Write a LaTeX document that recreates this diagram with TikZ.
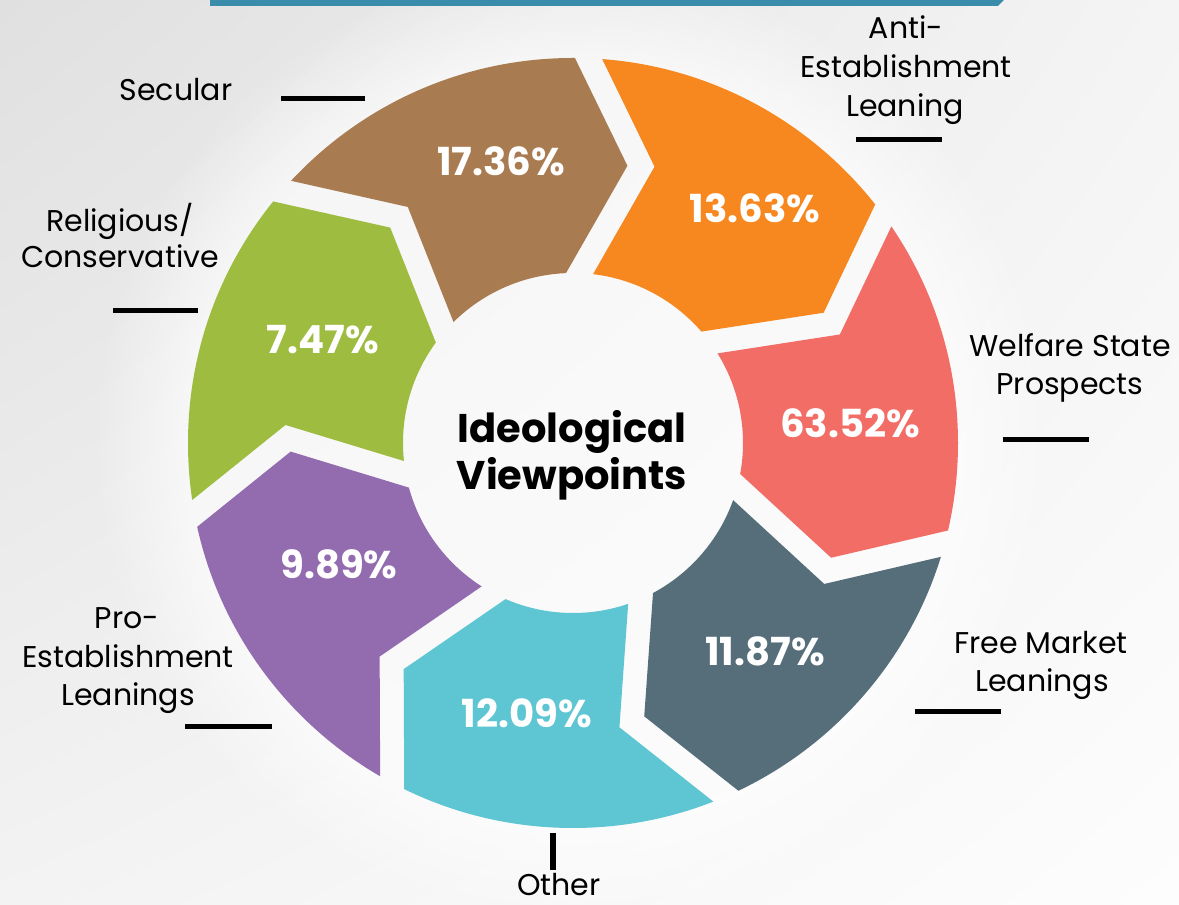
\documentclass[tikz,border=0pt]{standalone}
\usepackage{fontspec}
\setmainfont{Poppins}
\usetikzlibrary{calc,shadings,fadings}
\definecolor{cBrown}{HTML}{A97B51}
\definecolor{cOrange}{HTML}{F7871F}
\definecolor{cRed}{HTML}{F26D65}
\definecolor{cSlate}{HTML}{566E7A}
\definecolor{cCyan}{HTML}{5EC5D3}
\definecolor{cPurple}{HTML}{936CAF}
\definecolor{cGreen}{HTML}{9DBC40}
\definecolor{cBar}{HTML}{3A8DAA}
\definecolor{bgUL}{HTML}{E0E0E0}
\definecolor{bgUR}{HTML}{F4F4F4}
\definecolor{bgLL}{HTML}{F3F3F3}
\definecolor{bgLR}{HTML}{FDFDFD}
\tikzset{
  pct/.style={anchor=base, text=white, inner sep=0pt, font=\bfseries\fontsize{29}{34}\selectfont},
  lbl/.style={anchor=base, text=black, inner sep=0pt, font=\fontsize{22.5}{27}\selectfont},
  ctr/.style={anchor=base, text=black, inner sep=0pt, font=\bfseries\fontsize{30}{36}\selectfont},
  tick/.style={line width=3.75pt, black}
}
\begin{document}
\begin{tikzpicture}[x=0.75pt,y=0.75pt]
\useasboundingbox (0,0) rectangle (1179,905);
\shade[upper left=bgUL, upper right=bgUR, lower left=bgLL, lower right=bgLR] (0,0) rectangle (1179,905);
% soft light glow behind the ring
\coordinate (C) at (573,462);
\fill[white, opacity=0.6, path fading=circle with fuzzy edge 20 percent] (C) circle[radius=360pt];
% top bar
\fill[cBar] (210,899) -- (998,899) -- (1005,906) -- (210,906) -- cycle;
% geometry of the ring
\foreach \k in {0,...,6}{
  \pgfmathsetmacro\ang{87.7+51.4286*\k}
  % head side of boundary k (segment on its counter-clockwise side)
  \coordinate (Ha\k) at ($(C)+(\ang+9.07:517.9)$);
  \coordinate (Hb\k) at ($(C)+(\ang-8.81:282.5)$);
  \coordinate (Hc\k) at ($(C)+(\ang+24.46:114.9)$);
  % tail side of boundary k (segment on its clockwise side)
  \coordinate (Ta\k) at ($(C)+(\ang+6.59:526.3)$);
  \coordinate (Tb\k) at ($(C)+(\ang-14.14:288.1)$);
  \coordinate (Tc\k) at ($(C)+(\ang+15.68:97.1)$);
}
\begin{scope}
  \clip (C) circle[radius=288.75pt] ($(C)+(170,0)$) arc[start angle=0, end angle=-360, radius=127.5pt];
  \foreach \h/\t/\col in {0/1/cBrown, 1/2/cGreen, 2/3/cPurple, 3/4/cCyan, 4/5/cSlate, 5/6/cRed, 6/0/cOrange}{
    \fill[\col] (Ha\h) -- (Hb\h) -- (Hc\h) -- (Tc\t) -- (Tb\t) -- (Ta\t) -- cycle;
  }
\end{scope}
% percentages
\node[pct] (p1) at (501,729) {17.36\%};
\node[pct] (p2) at (755,682) {13.63\%};
\node[pct] (p3) at (323,551) {7.47\%};
\node[pct] (p4) at (339,326) {9.89\%};
\node[pct] (p5) at (850,467) {63.52\%};
\node[pct] (p6) at (765,239) {11.87\%};
\node[pct] (p7) at (527,177) {12.09\%};
% centre
\node[ctr] (c1) at (572,462) {Ideological};
\node[ctr] (c2) at (572,415) {Viewpoints};
% outer labels
\node[lbl] (l1) at (176,804) {Secular};
\node[lbl] (l2a) at (906,866) {Anti-};
\node[lbl] (l2b) at (906,827) {Establishment};
\node[lbl] (l2c) at (905,788) {Leaning};
\node[lbl] (l3a) at (120,673) {Religious/};
\node[lbl] (l3b) at (120,637) {Conservative};
\node[lbl] (l4a) at (1070,548) {Welfare State};
\node[lbl] (l4b) at (1070,510) {Prospects};
\node[lbl] (l5a) at (1041,251) {Free Market};
\node[lbl] (l5b) at (1042,213) {Leanings};
\node[lbl] (l6a) at (127,276) {Pro-};
\node[lbl] (l6b) at (128,237) {Establishment};
\node[lbl] (l6c) at (128,199) {Leanings};
\node[lbl] (l7) at (559,9) {Other};
% tick marks
\coordinate (s1a) at (281,806); \coordinate (s1b) at (365,806);
\coordinate (s2a) at (856,765); \coordinate (s2b) at (942,765);
\coordinate (s3a) at (113,594); \coordinate (s3b) at (198,594);
\coordinate (s4a) at (1003,465); \coordinate (s4b) at (1089,465);
\coordinate (s5a) at (915,193); \coordinate (s5b) at (1001,193);
\coordinate (s6a) at (185,178); \coordinate (s6b) at (272,178);
\coordinate (s7a) at (553,72); \coordinate (s7b) at (553,35);
\foreach \i in {1,...,6}{ \draw[tick] (s\i a) -- (s\i b); }
\draw[line width=4pt, black] (s7a) -- (s7b);
\end{tikzpicture}
\end{document}
